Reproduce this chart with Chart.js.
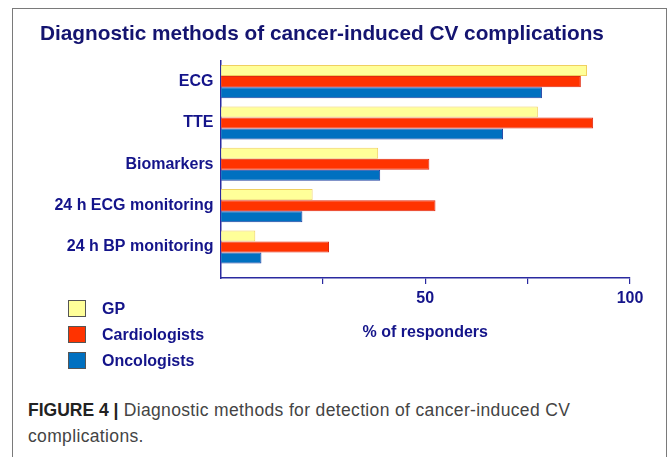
<!DOCTYPE html>
<html>
<head>
<meta charset="utf-8">
<script src="https://cdn.jsdelivr.net/npm/chart.js@4.4.0/dist/chart.umd.min.js"></script>
<style>
  html, body { margin: 0; padding: 0; background: #fff; }
  body { width: 670px; height: 457px; position: relative; overflow: hidden; }
  #frame {
    position: absolute; left: 12px; top: 8px; width: 655px; height: 470px;
    border: 1.5px solid #7a7a7a; box-sizing: border-box;
  }
  #chartBox { position: absolute; left: 0; top: 0; width: 670px; height: 348px; }
  #legend { position: absolute; left: 68px; top: 300px; font: bold 16px "Liberation Sans", Arial, sans-serif; color: #14148a; }
  .item { height: 26px; display: flex; align-items: flex-start; }
  .swatch { width: 18px; height: 17px; box-sizing: border-box; border: 1px solid #555; margin-right: 16px; }
  .item span { line-height: 18px; }
  #caption {
    position: absolute; left: 28px; top: 397px; width: 590px;
    font: 17.5px "Liberation Sans", Arial, sans-serif; letter-spacing: 0.35px;
    color: #444; line-height: 26px;
  }
  #caption b { font-weight: 700; color: #222; letter-spacing: 0; }
</style>
</head>
<body>
<div id="frame"></div>
<div id="chartBox"><canvas id="methodsChart"></canvas></div>
<div id="legend"></div>
<div id="caption"><b>FIGURE 4 |</b> Diagnostic methods for detection of cancer-induced CV complications.</div>

<script>
// Datos (% de respondedores)
const methods = ['ECG', 'TTE', 'Biomarkers', '24 h ECG monitoring', '24 h BP monitoring'];
const gpValues = [89.5, 77.5, 38.5, 22.5, 8.5];
const cardiologistValues = [88, 91, 51, 52.5, 26.5];
const oncologistValues = [78.5, 69, 39, 20, 10];
const xTicksShown = [50, 100];

const navy = '#14148a';
const labelFont = { family: '"Liberation Sans", Arial, sans-serif', size: 16, weight: 'bold' };

function toPoints(values) {
    return values.map(function(v, i) { return { x: v, y: i }; });
}

const chart = new Chart(document.getElementById('methodsChart').getContext('2d'), {
    type: 'bar',
    data: {
        datasets: [
            {
                label: 'GP',
                data: toPoints(gpValues),
                backgroundColor: '#ffff99',
                borderColor: '#f0d060',
                borderWidth: 1
            },
            {
                label: 'Cardiologists',
                data: toPoints(cardiologistValues),
                backgroundColor: '#ff3300',
                borderColor: '#e02a10',
                borderWidth: 1
            },
            {
                label: 'Oncologists',
                data: toPoints(oncologistValues),
                backgroundColor: '#0070c0',
                borderColor: '#2040a0',
                borderWidth: 1
            }
        ]
    },
    options: {
        indexAxis: 'y',
        responsive: true,
        maintainAspectRatio: false,
        animation: false,
        categoryPercentage: 0.8,
        barPercentage: 1.0,
        layout: { padding: { left: 40, right: 40, top: 10, bottom: 0 } },
        plugins: {
            legend: { display: false },
            tooltip: { enabled: false },
            title: {
                display: true,
                text: 'Diagnostic methods of cancer-induced CV complications',
                align: 'start',
                color: '#141470',
                font: { family: '"Liberation Sans", Arial, sans-serif', size: 20.8, weight: 'bold' },
                padding: { top: 12, bottom: 14 }
            }
        },
        scales: {
            y: {
                type: 'linear',
                reverse: true,
                offset: false,
                min: -0.5,
                max: 4.75,
                afterBuildTicks: function(scale) {
                    scale.ticks = methods.map(function(m, i) { return { value: i }; });
                },
                afterFit: function(scale) { scale.width = 180.5; },
                grid: { display: false, drawTicks: false, offset: false },
                border: { display: true, color: '#2a2aa0', width: 1.5 },
                ticks: {
                    padding: 7,
                    color: navy,
                    font: labelFont,
                    callback: function(value) { return methods[value]; }
                }
            },
            x: {
                type: 'linear',
                min: 0,
                max: 100,
                afterFit: function(scale) { scale.height = 70; },
                grid: {
                    drawOnChartArea: false,
                    drawTicks: true,
                    tickLength: 6,
                    lineWidth: 1.2,
                    color: function(ctx) { return ctx.tick && ctx.tick.value === 0 ? 'rgba(0,0,0,0)' : '#2a2aa0'; }
                },
                border: { display: true, color: '#2a2aa0', width: 1.5 },
                ticks: {
                    stepSize: 25,
                    padding: 5,
                    color: navy,
                    font: labelFont,
                    callback: function(value) { return xTicksShown.includes(value) ? value : ''; }
                },
                title: {
                    display: true,
                    text: '% of responders',
                    color: navy,
                    font: labelFont,
                    padding: { top: 4, bottom: 6 }
                }
            }
        }
    }
});

// Leyenda HTML construida desde los datasets del gráfico
const legendEl = document.getElementById('legend');
chart.data.datasets.forEach(function(ds) {
    const row = document.createElement('div');
    row.className = 'item';
    const sw = document.createElement('div');
    sw.className = 'swatch';
    sw.style.background = ds.backgroundColor;
    const txt = document.createElement('span');
    txt.textContent = ds.label;
    row.appendChild(sw);
    row.appendChild(txt);
    legendEl.appendChild(row);
});
</script>
</body>
</html>
